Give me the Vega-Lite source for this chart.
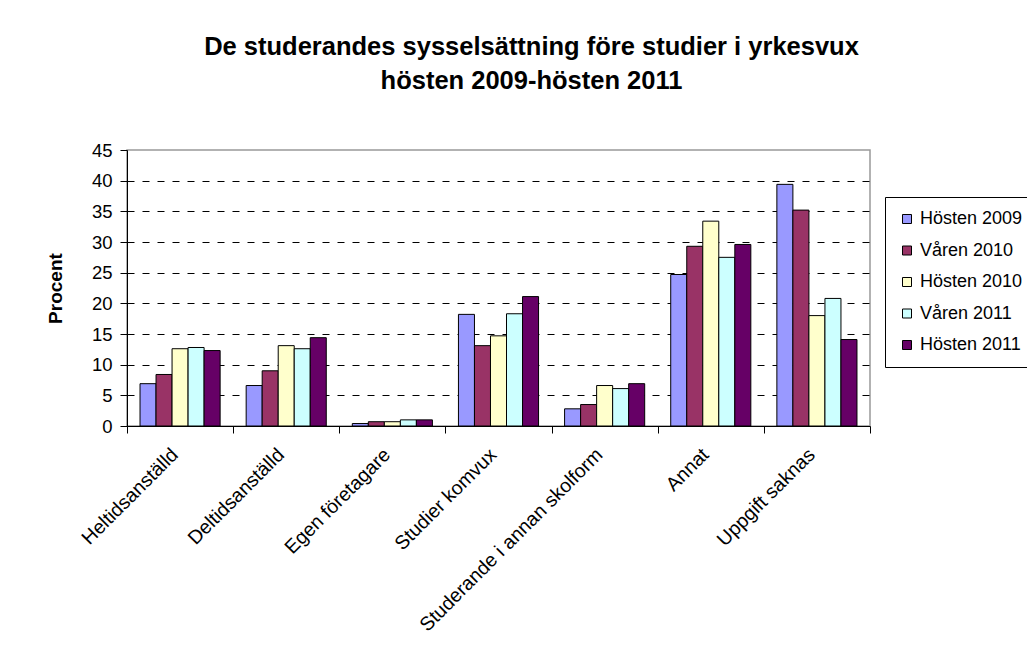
{
  "$schema": "https://vega.github.io/schema/vega-lite/v6.json",
  "autosize": "none",
  "width": 743,
  "height": 276,
  "padding": {"left": 127, "top": 150, "right": 157, "bottom": 233},
  "background": "white",
  "config": {
    "font": "Liberation Sans",
    "view": {"stroke": "#999999", "strokeWidth": 1.5}
  },
  "title": {
    "text": ["De studerandes sysselsättning före studier i yrkesvux", "hösten 2009-hösten 2011"],
    "fontSize": 25.5,
    "fontWeight": "bold",
    "color": "black",
    "anchor": "middle",
    "frame": "group",
    "dx": 33,
    "offset": 47,
    "lineHeight": 34
  },
  "data": {
    "values": [
      {"cat": "Heltidsanställd", "series": "Hösten 2009", "value": 6.9},
      {"cat": "Heltidsanställd", "series": "Våren 2010", "value": 8.4},
      {"cat": "Heltidsanställd", "series": "Hösten 2010", "value": 12.6},
      {"cat": "Heltidsanställd", "series": "Våren 2011", "value": 12.8},
      {"cat": "Heltidsanställd", "series": "Hösten 2011", "value": 12.3},
      {"cat": "Deltidsanställd", "series": "Hösten 2009", "value": 6.6},
      {"cat": "Deltidsanställd", "series": "Våren 2010", "value": 9.0},
      {"cat": "Deltidsanställd", "series": "Hösten 2010", "value": 13.1},
      {"cat": "Deltidsanställd", "series": "Våren 2011", "value": 12.6},
      {"cat": "Deltidsanställd", "series": "Hösten 2011", "value": 14.4},
      {"cat": "Egen företagare", "series": "Hösten 2009", "value": 0.4},
      {"cat": "Egen företagare", "series": "Våren 2010", "value": 0.7},
      {"cat": "Egen företagare", "series": "Hösten 2010", "value": 0.7},
      {"cat": "Egen företagare", "series": "Våren 2011", "value": 1.0},
      {"cat": "Egen företagare", "series": "Hösten 2011", "value": 1.0},
      {"cat": "Studier komvux", "series": "Hösten 2009", "value": 18.2},
      {"cat": "Studier komvux", "series": "Våren 2010", "value": 13.1},
      {"cat": "Studier komvux", "series": "Hösten 2010", "value": 14.7},
      {"cat": "Studier komvux", "series": "Våren 2011", "value": 18.3},
      {"cat": "Studier komvux", "series": "Hösten 2011", "value": 21.1},
      {"cat": "Studerande i annan skolform", "series": "Hösten 2009", "value": 2.8},
      {"cat": "Studerande i annan skolform", "series": "Våren 2010", "value": 3.5},
      {"cat": "Studerande i annan skolform", "series": "Hösten 2010", "value": 6.6},
      {"cat": "Studerande i annan skolform", "series": "Våren 2011", "value": 6.1},
      {"cat": "Studerande i annan skolform", "series": "Hösten 2011", "value": 6.9},
      {"cat": "Annat", "series": "Hösten 2009", "value": 24.7},
      {"cat": "Annat", "series": "Våren 2010", "value": 29.3},
      {"cat": "Annat", "series": "Hösten 2010", "value": 33.4},
      {"cat": "Annat", "series": "Våren 2011", "value": 27.5},
      {"cat": "Annat", "series": "Hösten 2011", "value": 29.6},
      {"cat": "Uppgift saknas", "series": "Hösten 2009", "value": 39.4},
      {"cat": "Uppgift saknas", "series": "Våren 2010", "value": 35.2},
      {"cat": "Uppgift saknas", "series": "Hösten 2010", "value": 18.0},
      {"cat": "Uppgift saknas", "series": "Våren 2011", "value": 20.8},
      {"cat": "Uppgift saknas", "series": "Hösten 2011", "value": 14.1}
    ]
  },
  "mark": {"type": "bar", "stroke": "black", "strokeWidth": 1},
  "encoding": {
    "x": {
      "field": "cat",
      "type": "nominal",
      "sort": ["Heltidsanställd", "Deltidsanställd", "Egen företagare", "Studier komvux", "Studerande i annan skolform", "Annat", "Uppgift saknas"],
      "scale": {"paddingInner": 0, "paddingOuter": 0},
      "axis": {
        "title": null,
        "tickBand": "extent",
        "labelAngle": -45,
        "labelAlign": "right",
        "labelBaseline": "top",
        "labelFontSize": 19.5,
        "labelColor": "black",
        "labelPadding": 12,
        "labelOffset": -12,
        "tickSize": 7,
        "tickColor": "black",
        "domainColor": "black",
        "labelLimit": 400
      }
    },
    "xOffset": {
      "field": "series",
      "type": "nominal",
      "sort": ["Hösten 2009", "Våren 2010", "Hösten 2010", "Våren 2011", "Hösten 2011"],
      "scale": {"paddingInner": 0, "paddingOuter": 0.8125}
    },
    "y": {
      "field": "value",
      "type": "quantitative",
      "scale": {"domain": [0, 45], "nice": false},
      "axis": {
        "title": "Procent",
        "titleFontSize": 19,
        "titleFontWeight": "bold",
        "titleColor": "black",
        "titleAngle": -90,
        "titleX": -72,
        "titleY": 138,
        "titleAlign": "center",
        "titleBaseline": "middle",
        "values": [0, 5, 10, 15, 20, 25, 30, 35, 40, 45],
        "labelFontSize": 18.5,
        "labelColor": "black",
        "labelPadding": 8,
        "tickSize": 7,
        "tickColor": "black",
        "domainColor": "black",
        "grid": true,
        "gridColor": "black",
        "gridDash": [7, 8],
        "gridOpacity": {"condition": {"test": "datum.value === 45 || datum.value === 0", "value": 0}, "value": 1}
      }
    },
    "color": {
      "field": "series",
      "type": "nominal",
      "sort": ["Hösten 2009", "Våren 2010", "Hösten 2010", "Våren 2011", "Hösten 2011"],
      "scale": {
        "domain": ["Hösten 2009", "Våren 2010", "Hösten 2010", "Våren 2011", "Hösten 2011"],
        "range": ["#9999FF", "#993366", "#FFFFCC", "#CCFFFF", "#660066"]
      },
      "legend": {
        "title": null,
        "orient": "none",
        "legendX": 758,
        "legendY": 47,
        "strokeColor": "black",
        "fillColor": "white",
        "padding": 13,
        "symbolType": "square",
        "symbolSize": 81,
        "symbolStrokeColor": "black",
        "symbolStrokeWidth": 1,
        "symbolOpacity": 1,
        "labelFontSize": 18,
        "labelColor": "black",
        "labelOffset": 4,
        "rowPadding": 13.5,
        "labelLimit": 300
      }
    }
  }
}
